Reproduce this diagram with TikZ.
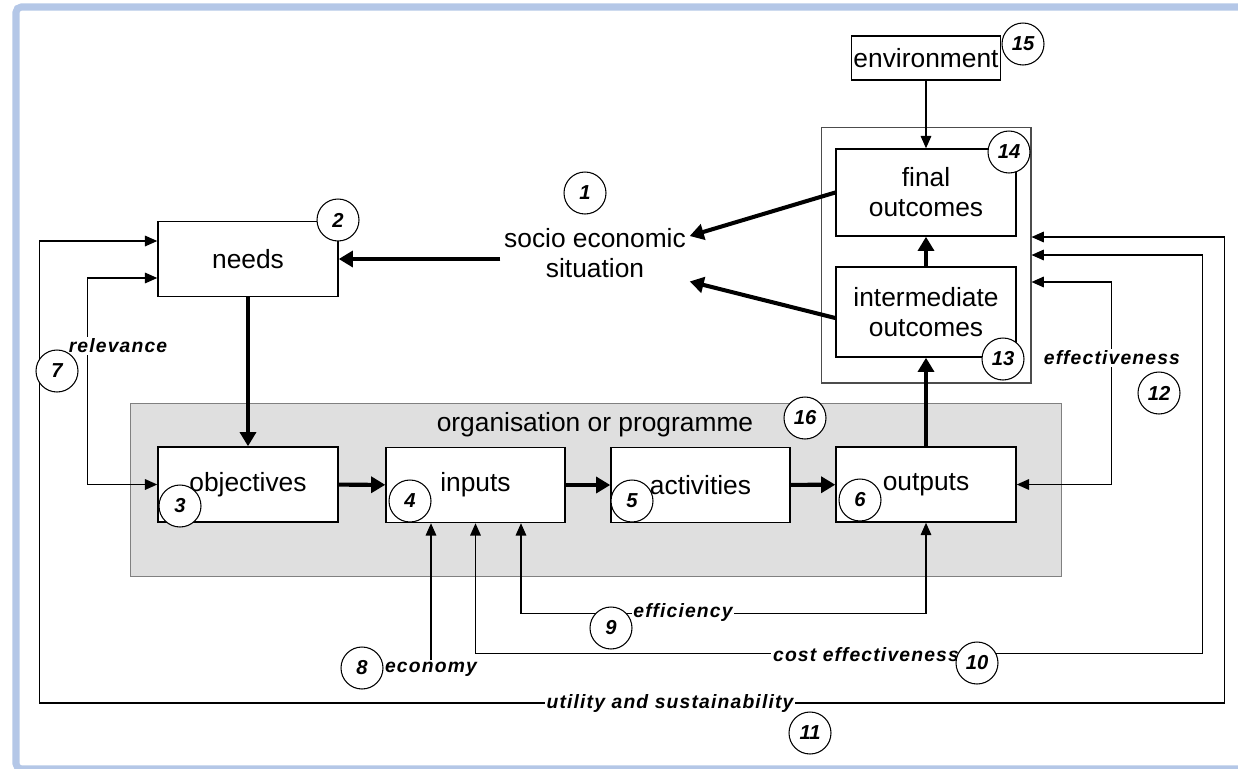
\documentclass[tikz,border=0pt]{standalone}
\usepackage{fontspec}
\setmainfont{Liberation Sans}
\newfontfamily\lblfamily[LetterSpace=6]{Liberation Sans}
\usetikzlibrary{arrows.meta}

\definecolor{framblue}{RGB}{180,199,231}
\definecolor{orggray}{RGB}{223,223,223}

\newcommand{\boxfont}{\fontsize{15}{17}\selectfont}
\newcommand{\lblfont}{\lblfamily\bfseries\itshape\fontsize{11}{13}\selectfont}
\newcommand{\numfont}{\bfseries\itshape\fontsize{11.5}{13}\selectfont}

\tikzset{
  box/.style={draw, fill=white, line width=0.85pt, minimum width=3.6cm,
    minimum height=1.5cm, align=center, inner sep=1pt, font=\boxfont},
  num/.style={circle, draw, fill=white, line width=0.6pt, minimum size=0.84cm,
    inner sep=0pt, font=\numfont},
  lbl/.style={fill=white, inner sep=1pt, font=\lblfont},
  link/.style={line width=0.85pt, -{Triangle[length=7pt,width=6pt]}},
  twoway/.style={line width=0.85pt,
    {Triangle[length=7pt,width=6pt]}-{Triangle[length=7pt,width=6pt]}},
  flow/.style={line width=2.3pt, -{Triangle[length=8pt,width=9pt]}}
}

\begin{document}
\begin{tikzpicture}[x=0.02cm, y=-0.02cm]
  \useasboundingbox (0,0) rectangle (1238,768);
  % page frame
  \draw[framblue, line width=4pt, rounded corners=3pt] (1238,7) -- (16,7) -- (16,769) -- (1238,769);

  % background areas
  \node[draw=gray, fill=orggray, minimum width=18.62cm, minimum height=3.46cm,
    inner sep=0pt] (org) at (595.5,489.5) {};
  \node[font=\boxfont] (orglbl) at (595,425) {organisation or programme};
  \node[draw=gray!60!black, line width=0.6pt, minimum width=4.2cm,
    minimum height=5.12cm, inner sep=0pt] (results) at (926,255) {};

  % boxes
  \node[box] (needs) at (248,259) {needs};
  \node[box] (objectives) at (248,484.5) {objectives};
  \node[box, minimum width=3.58cm] (inputs) at (475.5,485) {inputs};
  \node[box, minimum width=3.58cm] (activities) at (700.5,485) {activities};
  \node[box] (outputs) at (926,484.5) {outputs};
  \node[box, minimum height=1.74cm] (final) at (926,192.5) {final\\outcomes};
  \node[box, minimum height=1.8cm] (intermediate) at (926,312) {intermediate\\outcomes};
  \node[box, minimum width=2.88cm, minimum height=0.88cm] (environment) at (926,58) {environment};
  \node[font=\boxfont, align=center, inner sep=2pt] (socio) at (595,253) {socio economic\\situation};

  % main flow
  \draw[flow] (needs.east -| socio.west) -- (needs.east);
  \draw[flow] (final.west) -- ([yshift=-0.23cm]socio.north east);
  \draw[flow] ([yshift=-0.12cm]intermediate.west) -- (socio.south east);
  \draw[flow] (needs) -- (objectives);
  \draw[flow] (objectives) -- (inputs);
  \draw[flow] (inputs) -- (activities);
  \draw[flow] (activities) -- (outputs);
  \draw[flow] (outputs) -- (intermediate);
  \draw[flow] (intermediate) -- (final);
  \draw[link] (environment) -- (final);

  % evaluation loops
  \draw[twoway] ([yshift=-0.38cm]needs.west) -- ++(-70,0) |- (objectives.west);
  \draw[twoway] ([yshift=0.36cm]needs.west) -- ++(-118,0) -- ++(0,462)
    -- ++(1185,0) |- ([yshift=0.36cm]results.east);
  \draw[twoway] (inputs.south) -- ++(0,130) -- ++(727,0) |- (results.east);
  \draw[twoway] ([xshift=0.91cm]inputs.south) -- ++(0,90) -| (outputs.south);
  \draw[twoway] (outputs.east) -- ++(95,0) |- ([yshift=-0.54cm]results.east);

  % criteria
  \node[lbl] (relevance) at (118,346) {relevance};
  \node[lbl] (economy) at (431,669) {economy};
  \node[lbl] (efficiency) at (683,612) {efficiency};
  \node[lbl] (costeff) at (866,655) {cost effectiveness};
  \node[lbl] (utility) at (670,703) {utility and sustainability};
  \node[lbl] (effectiveness) at (1112,358) {effectiveness};
  \draw[link] (economy.north) -- (economy.north |- inputs.south);

  % numbers
  \node[num] (n1) at (585,193) {1};
  \node[num] (n2) at (338,220) {2};
  \node[num] (n3) at (180,506) {3};
  \node[num] (n4) at (410,501) {4};
  \node[num] (n5) at (632,501) {5};
  \node[num] (n6) at (860,500) {6};
  \node[num] (n7) at (57,371) {7};
  \node[num] (n8) at (362,668) {8};
  \node[num] (n9) at (611,628) {9};
  \node[num] (n10) at (977,663) {10};
  \node[num] (n11) at (810,733) {11};
  \node[num] (n12) at (1159,393) {12};
  \node[num] (n13) at (1003,359) {13};
  \node[num] (n14) at (1009,152) {14};
  \node[num] (n15) at (1023,44) {15};
  \node[num] (n16) at (805,418) {16};
\end{tikzpicture}
\end{document}
